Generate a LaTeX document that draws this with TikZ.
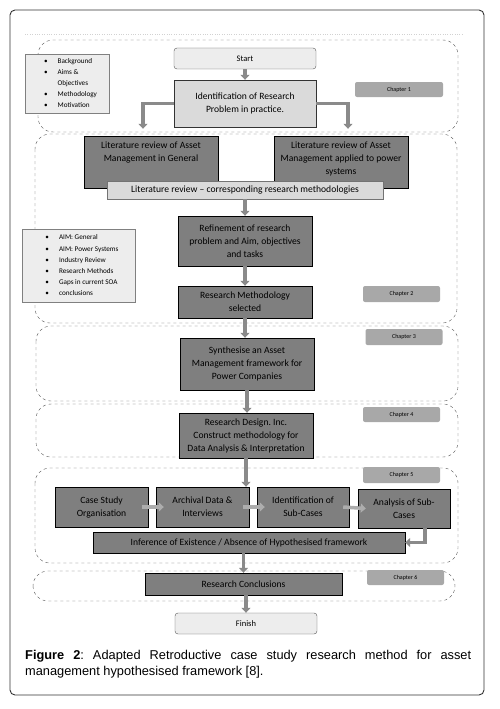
\documentclass[tikz,border=0pt]{standalone}
\usepackage{fontspec}
\setmainfont{Carlito}
\newfontfamily\capfont{Liberation Sans}
\usepackage{xcolor}
\definecolor{cDark}{HTML}{7F7F7F}
\definecolor{cLight}{HTML}{DADADA}
\definecolor{cPale}{HTML}{EDEDED}
\definecolor{cTag}{HTML}{A8A8A8}
\definecolor{cArrow}{HTML}{8A8A8A}
\definecolor{cFrame}{HTML}{555555}
\usetikzlibrary{positioning,arrows.meta,calc}
\frenchspacing
\tikzset{
  node-dark/.style={draw=black,fill=cDark,align=center,inner sep=2pt,
    font=\fontsize{9.6}{13}\selectfont},
  node-light/.style={draw=black!80,fill=cLight,align=center,inner sep=2pt,
    font=\fontsize{9.6}{13}\selectfont},
  node-term/.style={draw=cFrame,fill=cPale,rounded corners=3pt,align=center,
    inner sep=2pt,minimum width=142pt,minimum height=21pt,
    font=\fontsize{8.5}{10}\selectfont},
  node-tag/.style={fill=cTag,rounded corners=2pt,minimum width=77pt,
    minimum height=15pt,inner sep=1pt,font=\fontsize{6}{7}\selectfont},
  node-list/.style={draw=gray,fill=cPale,inner sep=0pt,
    font=\fontsize{7.2}{11.1}\selectfont},
  box-size/.style 2 args={minimum width=#1,minimum height=#2},
  chapter-frame/.style={draw=cFrame,dashed,rounded corners=15pt,thin},
  arrow-block/.style={-{Triangle[length=5pt,width=9pt]},line width=3.5pt,
    draw=cArrow},
}
\newcommand{\bulletlist}[1]{%
  \begin{tabular}{@{\hspace{7pt}}l@{\hspace{10pt}}l@{}}#1\end{tabular}}

\begin{document}
\begin{tikzpicture}[x=1pt,y=-1pt]
  \useasboundingbox (0,0) rectangle (499,709);
  \draw[black!80,line width=0.9pt,rounded corners=5pt] (10,10) rectangle (484,695);
  \draw[dotted,gray!35] (25,34) -- (462,34);

  % chapter regions
  \draw[chapter-frame] (38,40) rectangle (458,132);
  \draw[chapter-frame] (35,134) rectangle (457,323);
  \draw[chapter-frame] (36,326) rectangle (458,401);
  \draw[chapter-frame] (36,404) rectangle (458,457);
  \draw[chapter-frame] (35,468) rectangle (458,563);
  \draw[chapter-frame] (33,571) rectangle (455,601);

  % chapter 1
  \node[node-list,box-size={84pt}{59pt}] (list1) at (67,83.5) {\bulletlist{%
    \textbullet & Background\\ \textbullet & Aims \&\\ & Objectives\\
    \textbullet & Methodology\\ \textbullet & Motivation}};
  \node[node-term] (start) at (245,58.5) {Start};
  \node[node-light,box-size={142pt}{47pt}] (ident) at (245,103.5)
    {Identification of Research\\Problem in practice.};
  \node[node-tag,minimum width=88pt] (ch1) at (399,89.5) {Chapter 1};

  % chapter 2
  \node[node-dark,box-size={134pt}{52pt}] (litgen) at (151,162)
    {Literature review of Asset\\Management in General\\[7pt]\mbox{}};
  \node[node-dark,box-size={134pt}{52pt}] (litpow) at (341,162)
    {Literature review of Asset\\Management applied to power\\systems\\[-6pt]\mbox{}};
  \node[node-light,draw=black!55,box-size={276pt}{18pt}] (corr) at (245,190)
    {Literature review -- corresponding research methodologies};
  \node[node-dark,box-size={134pt}{50pt}] (refine) at (245,241)
    {Refinement of research\\problem and Aim, objectives\\and tasks};
  \node[node-dark,box-size={134pt}{32pt}] (rmsel) at (245,302)
    {Research Methodology\\selected};
  \node[node-list,box-size={113pt}{73pt}] (list2) at (78.5,265.5) {\bulletlist{%
    \textbullet & AIM: General\\ \textbullet & AIM: Power Systems\\
    \textbullet & Industry Review\\ \textbullet & Research Methods\\
    \textbullet & Gaps in current SOA\\ \textbullet & conclusions}};
  \node[node-tag,minimum height=16pt] (ch2) at (401.5,294) {Chapter 2};

  % chapter 3 and 4
  \node[node-dark,box-size={134pt}{52pt}] (synth) at (247,364)
    {Synthesise an Asset\\Management framework for\\Power Companies};
  \node[node-tag,minimum height=16pt] (ch3) at (404,337) {Chapter 3};
  \node[node-dark,box-size={134pt}{45pt}] (rd) at (246,435.5)
    {Research Design. Inc.\\Construct methodology for\\Data Analysis \& Interpretation};
  \node[node-tag] (ch4) at (401.5,414.5) {Chapter 4};

  % chapter 5
  \node[node-dark,box-size={93pt}{40pt}] (case) at (101.5,507)
    {Case Study\\Organisation};
  \node[node-dark,box-size={93pt}{40pt}] (arch) at (202.5,507)
    {Archival Data \&\\Interviews};
  \node[node-dark,box-size={92pt}{40pt}] (idsub) at (303,507)
    {Identification of\\Sub-Cases};
  \node[node-dark,box-size={92pt}{39pt}] (ana) at (404,508.5)
    {Analysis of Sub-\\Cases};
  \node[node-dark,box-size={312pt}{21pt}] (inf) at (249,542.5)
    {Inference of Existence / Absence of Hypothesised framework};
  \node[node-tag,minimum height=16pt] (ch5) at (401.5,475) {Chapter 5};

  % chapter 6
  \node[node-dark,box-size={197pt}{22pt}] (concl) at (243.5,584)
    {Research Conclusions};
  \node[node-tag] (ch6) at (405.5,577.5) {Chapter 6};
  \node[node-term] (finish) at (246,623.5) {Finish};

  % arrows
  \draw[arrow-block] (start) -- (ident);
  \draw[arrow-block,shorten >=7pt] (ident.west) -| ([xshift=-8pt]litgen.north);
  \draw[arrow-block,shorten >=7pt] (ident.east) -| ([xshift=7pt]litpow.north);
  \draw[arrow-block] (corr) -- (refine);
  \draw[arrow-block] (refine) -- (rmsel);
  \draw[arrow-block] (rmsel.south) -- (rmsel.south |- synth.north);
  \draw[arrow-block] (synth.south) -- (synth.south |- rd.north);
  \draw[arrow-block] (rd.south) -- (rd.south |- arch.north);
  \draw[arrow-block,draw=cArrow!70] ([xshift=-6pt]case.east) -- ([xshift=8pt]arch.west);
  \draw[arrow-block,draw=cArrow!70] ([xshift=-6pt]arch.east) -- ([xshift=8pt]idsub.west);
  \draw[arrow-block,draw=cArrow!70] ([xshift=-6pt]idsub.east) -- ([xshift=8pt]ana.west);
  \draw[arrow-block] ([xshift=21pt]ana.south) |- (inf.east);
  \draw[arrow-block] (concl.north |- inf.south) -- (concl.north);
  \draw[arrow-block] (finish.north |- concl.south) -- (finish.north);

  % caption
  \node[anchor=north west,inner sep=0pt,text width=446pt,align=justify,
    font=\capfont\fontsize{12.8}{16}\selectfont] (caption) at (25,650)
    {\textbf{Figure 2}: Adapted Retroductive case study research method for asset\linebreak
     management hypothesised framework [8].};
\end{tikzpicture}
\end{document}
